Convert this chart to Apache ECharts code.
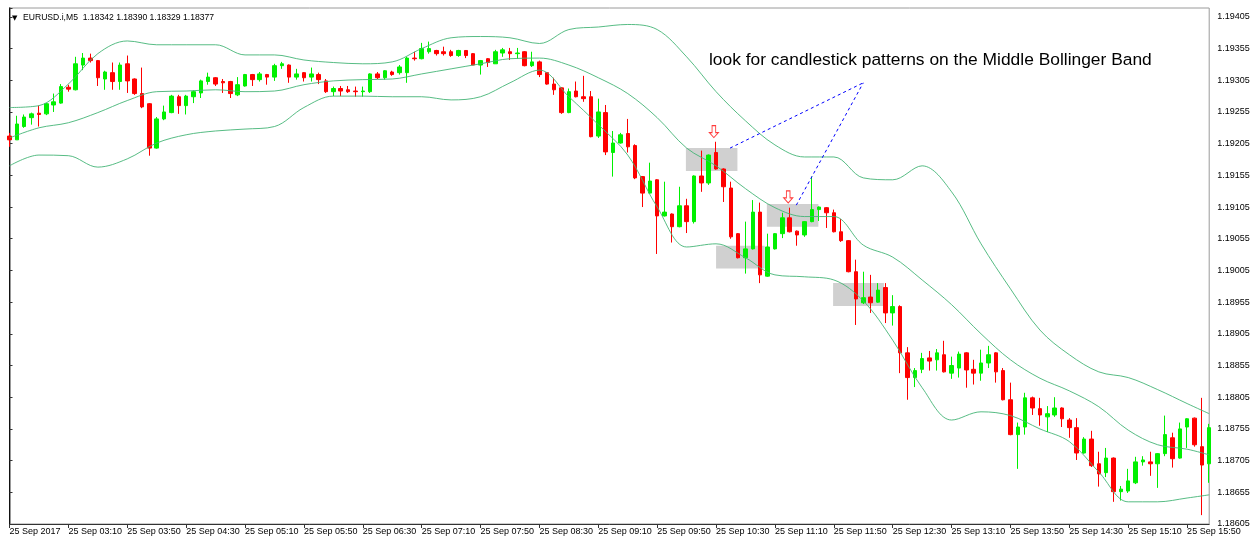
<!DOCTYPE html>
<html>
<head>
<meta charset="utf-8">
<title>EURUSD.i M5</title>
<script src="https://cdn.jsdelivr.net/npm/echarts@6/dist/echarts.min.js"></script>
<style>
html, body { margin: 0; padding: 0; background: #fff; }
#chart { width: 1252px; height: 542px; }
</style>
</head>
<body>
<div id="chart"></div>
<script>
const tickLabels = ['25 Sep 2017', '25 Sep 03:10', '25 Sep 03:50', '25 Sep 04:30', '25 Sep 05:10',
  '25 Sep 05:50', '25 Sep 06:30', '25 Sep 07:10', '25 Sep 07:50', '25 Sep 08:30', '25 Sep 09:10',
  '25 Sep 09:50', '25 Sep 10:30', '25 Sep 11:10', '25 Sep 11:50', '25 Sep 12:30', '25 Sep 13:10',
  '25 Sep 13:50', '25 Sep 14:30', '25 Sep 15:10', '25 Sep 15:50']

// open, close, low, high
const candles = [
  [1.19217, 1.19211, 1.19200, 1.19222], [1.19211, 1.19236, 1.19211, 1.19249], [1.19232, 1.19247, 1.19230, 1.19251],
  [1.19246, 1.19252, 1.19235, 1.19254], [1.19253, 1.19251, 1.19232, 1.19265], [1.19252, 1.19268, 1.19250, 1.19269],
  [1.19266, 1.19271, 1.19255, 1.19284], [1.19269, 1.19295, 1.19268, 1.19299], [1.19294, 1.19291, 1.19287, 1.19298],
  [1.19290, 1.19331, 1.19289, 1.19342], [1.19329, 1.19340, 1.19321, 1.19348], [1.19340, 1.19336, 1.19333, 1.19347],
  [1.19336, 1.19309, 1.19296, 1.19337], [1.19307, 1.19318, 1.19290, 1.19320], [1.19317, 1.19303, 1.19290, 1.19333],
  [1.19303, 1.19329, 1.19290, 1.19333], [1.19331, 1.19304, 1.19285, 1.19344], [1.19307, 1.19284, 1.19282, 1.19308],
  [1.19284, 1.19263, 1.19261, 1.19325], [1.19268, 1.19198, 1.19186, 1.19269], [1.19198, 1.19244, 1.19197, 1.19247],
  [1.19244, 1.19255, 1.19242, 1.19265], [1.19254, 1.19280, 1.19253, 1.19282], [1.19279, 1.19265, 1.19252, 1.19282],
  [1.19265, 1.19280, 1.19251, 1.19282], [1.19279, 1.19287, 1.19269, 1.19289], [1.19285, 1.19304, 1.19277, 1.19306],
  [1.19303, 1.19310, 1.19298, 1.19317], [1.19309, 1.19299, 1.19296, 1.19310], [1.19303, 1.19301, 1.19285, 1.19307],
  [1.19303, 1.19284, 1.19277, 1.19304], [1.19282, 1.19298, 1.19280, 1.19310], [1.19296, 1.19314, 1.19295, 1.19315],
  [1.19314, 1.19306, 1.19296, 1.19315], [1.19306, 1.19315, 1.19303, 1.19318], [1.19314, 1.19310, 1.19298, 1.19315],
  [1.19310, 1.19328, 1.19304, 1.19331], [1.19328, 1.19331, 1.19323, 1.19334], [1.19329, 1.19310, 1.19301, 1.19330],
  [1.19310, 1.19315, 1.19306, 1.19323], [1.19317, 1.19309, 1.19303, 1.19318], [1.19310, 1.19315, 1.19303, 1.19325],
  [1.19314, 1.19306, 1.19299, 1.19317], [1.19304, 1.19287, 1.19285, 1.19307], [1.19287, 1.19292, 1.19280, 1.19295],
  [1.19292, 1.19288, 1.19280, 1.19296], [1.19290, 1.19287, 1.19285, 1.19296], [1.19288, 1.19287, 1.19279, 1.19295],
  [1.19287, 1.19288, 1.19279, 1.19295], [1.19287, 1.19315, 1.19285, 1.19316], [1.19315, 1.19309, 1.19307, 1.19318],
  [1.19309, 1.19320, 1.19306, 1.19321], [1.19318, 1.19314, 1.19312, 1.19320], [1.19317, 1.19326, 1.19314, 1.19329],
  [1.19317, 1.19340, 1.19301, 1.19342], [1.19340, 1.19339, 1.19336, 1.19350], [1.19339, 1.19355, 1.19338, 1.19364],
  [1.19350, 1.19355, 1.19347, 1.19366], [1.19352, 1.19347, 1.19344, 1.19353], [1.19350, 1.19347, 1.19344, 1.19358],
  [1.19350, 1.19344, 1.19342, 1.19353], [1.19344, 1.19352, 1.19342, 1.19353], [1.19352, 1.19344, 1.19340, 1.19352],
  [1.19347, 1.19329, 1.19329, 1.19348], [1.19329, 1.19336, 1.19314, 1.19337], [1.19339, 1.19333, 1.19326, 1.19340],
  [1.19331, 1.19350, 1.19331, 1.19353], [1.19348, 1.19353, 1.19342, 1.19356], [1.19350, 1.19347, 1.19337, 1.19356],
  [1.19347, 1.19348, 1.19339, 1.19356], [1.19350, 1.19328, 1.19327, 1.19351], [1.19328, 1.19334, 1.19326, 1.19350],
  [1.19334, 1.19314, 1.19310, 1.19336], [1.19317, 1.19299, 1.19298, 1.19318], [1.19299, 1.19290, 1.19282, 1.19309],
  [1.19293, 1.19254, 1.19252, 1.19294], [1.19254, 1.19287, 1.19253, 1.19292], [1.19288, 1.19279, 1.19278, 1.19303],
  [1.19279, 1.19276, 1.19271, 1.19312], [1.19279, 1.19216, 1.19215, 1.19288], [1.19217, 1.19255, 1.19214, 1.19276],
  [1.19254, 1.19192, 1.19187, 1.19266], [1.19191, 1.19206, 1.19153, 1.19225], [1.19206, 1.19219, 1.19205, 1.19222],
  [1.19221, 1.19200, 1.19191, 1.19244], [1.19202, 1.19151, 1.19149, 1.19204], [1.19153, 1.19127, 1.19105, 1.19154],
  [1.19127, 1.19146, 1.19126, 1.19175], [1.19148, 1.19091, 1.19031, 1.19149], [1.19091, 1.19097, 1.19090, 1.19145],
  [1.19094, 1.19074, 1.19049, 1.19095], [1.19074, 1.19107, 1.19073, 1.19137], [1.19107, 1.19082, 1.19064, 1.19118],
  [1.19082, 1.19154, 1.19079, 1.19155], [1.19154, 1.19143, 1.19129, 1.19194], [1.19143, 1.19187, 1.19140, 1.19188],
  [1.19191, 1.19165, 1.19164, 1.19208], [1.19165, 1.19137, 1.19113, 1.19166], [1.19135, 1.19058, 1.19055, 1.19145],
  [1.19063, 1.19025, 1.19024, 1.19064], [1.19025, 1.19039, 1.19000, 1.19082], [1.19039, 1.19097, 1.19038, 1.19116],
  [1.19097, 1.18998, 1.18985, 1.19112], [1.18996, 1.19042, 1.18995, 1.19063], [1.19039, 1.19063, 1.19038, 1.19064],
  [1.19063, 1.19088, 1.19056, 1.19096], [1.19088, 1.19066, 1.19065, 1.19104], [1.19067, 1.19061, 1.19044, 1.19068],
  [1.19061, 1.19082, 1.19058, 1.19083], [1.19082, 1.19101, 1.19081, 1.19153], [1.19101, 1.19105, 1.19083, 1.19106],
  [1.19104, 1.19096, 1.19072, 1.19105], [1.19096, 1.19066, 1.19065, 1.19101], [1.19066, 1.19052, 1.19050, 1.19086],
  [1.19052, 1.19003, 1.19002, 1.19053], [1.19003, 1.18960, 1.18919, 1.19022], [1.18954, 1.18962, 1.18952, 1.19003],
  [1.18963, 1.18954, 1.18938, 1.18998], [1.18955, 1.18974, 1.18954, 1.18985], [1.18978, 1.18938, 1.18922, 1.18985],
  [1.18938, 1.18948, 1.18918, 1.18966], [1.18948, 1.18875, 1.18843, 1.18950], [1.18875, 1.18836, 1.18801, 1.18884],
  [1.18836, 1.18847, 1.18821, 1.18851], [1.18849, 1.18866, 1.18843, 1.18875], [1.18867, 1.18862, 1.18847, 1.18878],
  [1.18864, 1.18875, 1.18847, 1.18881], [1.18872, 1.18845, 1.18844, 1.18894], [1.18843, 1.18855, 1.18834, 1.18869],
  [1.18851, 1.18873, 1.18836, 1.18877], [1.18875, 1.18848, 1.18820, 1.18876], [1.18849, 1.18843, 1.18825, 1.18864],
  [1.18843, 1.18859, 1.18831, 1.18880], [1.18859, 1.18872, 1.18851, 1.18886], [1.18875, 1.18845, 1.18828, 1.18876],
  [1.18847, 1.18801, 1.18800, 1.18851], [1.18801, 1.18746, 1.18745, 1.18828], [1.18746, 1.18758, 1.18692, 1.18765],
  [1.18758, 1.18804, 1.18746, 1.18812], [1.18804, 1.18788, 1.18777, 1.18806], [1.18787, 1.18777, 1.18760, 1.18804],
  [1.18774, 1.18779, 1.18750, 1.18791], [1.18777, 1.18788, 1.18774, 1.18805], [1.18788, 1.18771, 1.18758, 1.18789],
  [1.18769, 1.18757, 1.18741, 1.18772], [1.18757, 1.18717, 1.18706, 1.18772], [1.18717, 1.18739, 1.18716, 1.18742],
  [1.18739, 1.18697, 1.18695, 1.18752], [1.18700, 1.18684, 1.18664, 1.18719], [1.18686, 1.18709, 1.18679, 1.18725],
  [1.18709, 1.18656, 1.18640, 1.18710], [1.18656, 1.18660, 1.18642, 1.18665], [1.18657, 1.18673, 1.18654, 1.18692],
  [1.18670, 1.18703, 1.18668, 1.18711], [1.18703, 1.18706, 1.18697, 1.18712], [1.18703, 1.18700, 1.18681, 1.18719],
  [1.18700, 1.18716, 1.18662, 1.18717], [1.18716, 1.18746, 1.18712, 1.18776], [1.18741, 1.18708, 1.18694, 1.18749],
  [1.18709, 1.18755, 1.18708, 1.18765], [1.18758, 1.18771, 1.18725, 1.18772], [1.18772, 1.18730, 1.18727, 1.18773],
  [1.18727, 1.18698, 1.18619, 1.18804], [1.18700, 1.18757, 1.18670, 1.18763]
]

// bollinger bands
const bandIdx = [0, 4, 8, 12, 16, 20, 24, 28, 32, 36, 40, 44, 48, 52, 56, 60, 64, 68, 72, 76, 80,
  84, 88, 92, 96, 100, 104, 108, 112, 116, 120, 124, 128, 132, 136, 140, 144, 148, 152, 156, 160, 163]
const upperBand = [1.19262, 1.19265, 1.19299, 1.19347, 1.19367, 1.19361, 1.19361, 1.19361, 1.19345, 1.19345,
  1.19337, 1.19333, 1.19331, 1.19334, 1.19355, 1.19372, 1.19374, 1.19372, 1.19363, 1.19385,
  1.19389, 1.19393, 1.19385, 1.19342, 1.19287, 1.19241, 1.19203, 1.19184, 1.19184, 1.19151,
  1.19148, 1.19170, 1.19129, 1.19047, 1.18976, 1.18911, 1.18872, 1.18845, 1.18836, 1.18817,
  1.18795, 1.18779]
const middleBand = [1.19214, 1.19230, 1.19238, 1.19254, 1.19273, 1.19287, 1.19288, 1.19290, 1.19287, 1.19288,
  1.19298, 1.19304, 1.19306, 1.19307, 1.19315, 1.19323, 1.19331, 1.19339, 1.19340, 1.19329,
  1.19309, 1.19284, 1.19246, 1.19198, 1.19170, 1.19134, 1.19104, 1.19090, 1.19090, 1.19045,
  1.19026, 1.18990, 1.18951, 1.18905, 1.18864, 1.18835, 1.18815, 1.18790, 1.18753, 1.18730,
  1.18723, 1.18714]
const lowerBand = [1.19170, 1.19187, 1.19186, 1.19168, 1.19181, 1.19206, 1.19219, 1.19225, 1.19228, 1.19232,
  1.19262, 1.19280, 1.19280, 1.19279, 1.19279, 1.19274, 1.19279, 1.19301, 1.19321, 1.19279,
  1.19235, 1.19187, 1.19105, 1.19042, 1.19047, 1.19025, 1.18998, 1.18995, 1.18990, 1.18957,
  1.18895, 1.18820, 1.18769, 1.18782, 1.18776, 1.18755, 1.18735, 1.18687, 1.18640, 1.18640,
  1.18646, 1.18651]

// annotations in bar index / price
const boxes = [[91.9, 1.19198, 98.9, 1.19162], [96.0, 1.19044, 102.6, 1.19008],
  [102.9, 1.19110, 109.9, 1.19074], [111.9, 1.18985, 118.8, 1.18949]]
const arrows = [[95.7, 1.19224], [105.8, 1.19121]]
const pointers = [[97.9, 1.19198, 116.0, 1.19301], [106.9, 1.19108, 116.0, 1.19301]]

const categories = candles.map((c, i) => String(i))
const yMin = 1.18605
const yStep = 0.0005
const font = "'Liberation Sans', Arial, sans-serif"

const chart = echarts.init(document.getElementById('chart'))

const bandLine = (name, values, extra) => Object.assign({
  name: name,
  type: 'line',
  xAxisIndex: 1,
  data: bandIdx.map((k, j) => [k, values[j]]),
  showSymbol: false,
  smooth: 0.35,
  silent: true,
  lineStyle: { color: '#45b577', width: 1, opacity: 0.9 }
}, extra || {})

const option = {
  animation: false,
  backgroundColor: '#fff',
  grid: { left: 9.5, right: 42.8, top: 8, bottom: 18, show: true, borderColor: '#9a9a9a', borderWidth: 1, outerBoundsMode: 'none' },
  xAxis: [{
    type: 'category',
    data: categories,
    boundaryGap: false,
    axisLine: { show: true, lineStyle: { color: '#333' } },
    axisTick: { show: true, length: 4, interval: idx => idx % 8 === 0, lineStyle: { color: '#333' } },
    axisLabel: {
      interval: idx => idx % 8 === 0,
      formatter: (v, idx) => idx % 8 === 0 ? tickLabels[idx / 8] : '',
      align: 'left',
      margin: 3,
      fontSize: 9,
      fontFamily: font,
      color: '#000'
    },
    splitLine: { show: false }
  }, {
    type: 'value',
    min: 0,
    max: candles.length - 1,
    show: false
  }],
  yAxis: [{
    type: 'value',
    position: 'right',
    min: yMin,
    max: 1.19419,
    interval: yStep,
    axisLine: { show: true, lineStyle: { color: '#777', width: 1.5 } },
    axisTick: { show: true, length: 3, lineStyle: { color: '#333' } },
    axisLabel: {
      margin: 8,
      fontSize: 9,
      fontFamily: font,
      color: '#000',
      formatter: v => {
        const k = (v - yMin) / yStep
        return Math.abs(k - Math.round(k)) < 1e-6 ? v.toFixed(5) : ''
      }
    },
    splitLine: { show: false }
  }, {
    type: 'value',
    position: 'left',
    min: yMin,
    max: 1.19419,
    axisLine: { show: true, lineStyle: { color: '#111' } },
    axisTick: { show: false },
    axisLabel: { show: false },
    splitLine: { show: false }
  }],
  graphic: [
    { type: 'text', left: 12, top: 15, style: { text: '▼', font: '7px "DejaVu Sans"', fill: '#000' } },
    { type: 'text', left: 23, top: 13, style: { text: 'EURUSD.i,M5  1.18342 1.18390 1.18329 1.18377', font: '8.6px ' + font, fill: '#000' } },
    { type: 'text', left: 709, top: 52, style: { text: 'look for candlestick patterns on the Middle Bollinger Band', font: '17.4px ' + font, fill: '#000' } }
  ],
  series: [
    bandLine('upper', upperBand, {
      markArea: {
        silent: true,
        itemStyle: { color: 'rgba(170,170,170,0.55)' },
        data: boxes.map(b => [{ coord: [b[0], b[1]] }, { coord: [b[2], b[3]] }])
      },
      markLine: {
        silent: true,
        symbol: ['none', 'none'],
        label: { show: false },
        lineStyle: { color: '#0000ff', width: 1, type: [3, 3] },
        data: pointers.map(p => [{ coord: [p[0], p[1]] }, { coord: [p[2], p[3]] }])
      },
      markPoint: {
        silent: true,
        symbol: 'path://M3,0H7V7H10L5,12L0,7H3Z',
        symbolSize: [9, 12],
        label: { show: false },
        itemStyle: { color: '#fff', borderColor: '#ff3b3b', borderWidth: 1 },
        data: arrows.map(a => ({ coord: a }))
      }
    }),
    {
      name: 'EURUSD',
      type: 'candlestick',
      data: candles,
      barWidth: 4,
      itemStyle: {
        color: '#00f000',
        color0: '#ff0000',
        borderColor: '#00f000',
        borderColor0: '#ff0000',
        borderWidth: 1
      }
    },
    bandLine('middle', middleBand),
    bandLine('lower', lowerBand)
  ]
}

chart.setOption(option)
</script>
</body>
</html>
